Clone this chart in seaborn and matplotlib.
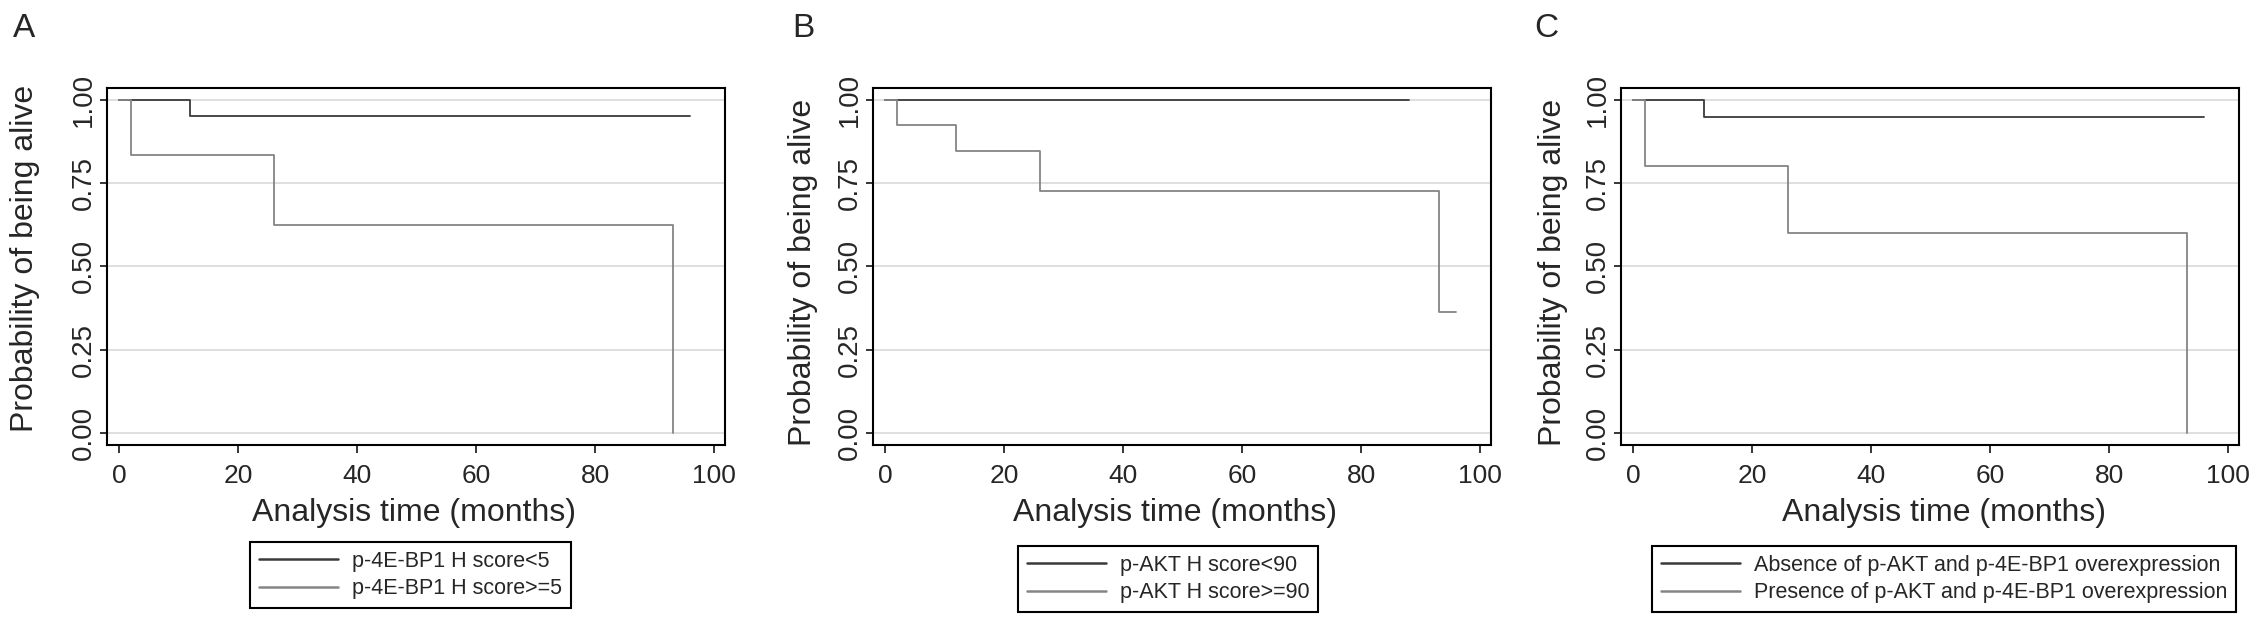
import pandas as pd
import matplotlib.pyplot as plt
import seaborn as sns

# Kaplan-Meier step values (time in months)
a_low_time = [0, 12, 96]
a_low_surv = [1.0, 0.95, 0.95]
a_high_time = [0, 2, 26, 93]
a_high_surv = [1.0, 0.833, 0.625, 0.0]
a_labels = ['p-4E-BP1 H score<5', 'p-4E-BP1 H score>=5']

b_low_time = [0, 88]
b_low_surv = [1.0, 1.0]
b_high_time = [0, 2, 12, 26, 93, 96]
b_high_surv = [1.0, 0.924, 0.847, 0.726, 0.363, 0.363]
b_labels = ['p-AKT H score<90', 'p-AKT H score>=90']

c_abs_time = [0, 12, 96]
c_abs_surv = [1.0, 0.947, 0.947]
c_pres_time = [0, 2, 26, 93]
c_pres_surv = [1.0, 0.8, 0.6, 0.0]
c_labels = ['Absence of p-AKT and p-4E-BP1 overexpression',
            'Presence of p-AKT and p-4E-BP1 overexpression']

panel_letters = ['A', 'B', 'C']
x_ticks = [0, 20, 40, 60, 80, 100]
y_ticks = [0, 0.25, 0.5, 0.75, 1.0]

DARK = '#3a3a3a'
GRAY = '#858585'
W, H = 2268, 630


def km_frame(t1, s1, t2, s2, labels):
    d1 = pd.DataFrame({'time': t1, 'surv': s1, 'group': labels[0]})
    d2 = pd.DataFrame({'time': t2, 'surv': s2, 'group': labels[1]})
    return pd.concat([d1, d2], ignore_index=True)


panels = [
    (km_frame(a_low_time, a_low_surv, a_high_time, a_high_surv, a_labels), a_labels),
    (km_frame(b_low_time, b_low_surv, b_high_time, b_high_surv, b_labels), b_labels),
    (km_frame(c_abs_time, c_abs_surv, c_pres_time, c_pres_surv, c_labels), c_labels),
]

sns.set_theme(style='ticks')
plt.rcParams['font.family'] = ['Liberation Sans', 'DejaVu Sans']

fig = plt.figure(figsize=(W / 100, H / 100), dpi=100)

# layout in pixels of the reference
ax_left = [107, 873, 1621]
letter_x = [13, 792, 1534]
leg_pos = [(250, 542), (1018, 546), (1652, 546)]
ylab_pos = [(-0.108, 0.522), (-0.089, 0.483), (-0.086, 0.483)]
xlab_x = [0.496, 0.489, 0.522]
ax_w, ax_h = 618, 357
ax_bottom = 444.5

for i, (df, labels) in enumerate(panels):
    ax = fig.add_axes([ax_left[i] / W, 1 - ax_bottom / H, ax_w / W, ax_h / H])
    ax.grid(axis='y', color='#d6d6d6', linewidth=1.1)
    ax.set_axisbelow(True)
    sns.lineplot(data=df, x='time', y='surv', hue='group',
                 palette={labels[0]: DARK, labels[1]: GRAY},
                 drawstyle='steps-post', estimator=None, linewidth=1.3, ax=ax)

    ax.set_xlim(-2, 101.8)
    ax.set_ylim(-0.035, 1.036)
    ax.set_xticks(x_ticks)
    ax.set_xticklabels([str(v) for v in x_ticks], fontsize=19)
    ax.set_yticks(y_ticks)
    ax.set_yticklabels([f'{v:.2f}' for v in y_ticks], fontsize=20,
                       rotation=90, va='center')
    ax.tick_params(axis='x', direction='out', length=5.5, width=1.1,
                   color='black', pad=8.5)
    ax.tick_params(axis='y', direction='out', length=5, width=1.1,
                   color='black', pad=2)
    for sp in ax.spines.values():
        sp.set_color('black')
        sp.set_linewidth(1.5)

    ax.set_xlabel('Analysis time (months)', fontsize=23)
    ax.set_ylabel('Probability of being alive', fontsize=23)
    ax.xaxis.set_label_coords(xlab_x[i], -0.151)
    ax.yaxis.set_label_coords(*ylab_pos[i])

    handles, labs = ax.get_legend_handles_labels()
    if ax.get_legend() is not None:
        ax.get_legend().remove()
    lx, ly = leg_pos[i]
    leg = fig.legend(handles, labs, loc='upper left',
                     bbox_to_anchor=(lx / W, 1 - ly / H),
                     bbox_transform=fig.transFigure, frameon=True,
                     fancybox=False, shadow=False, edgecolor='black',
                     framealpha=1, fontsize=15.5, handlelength=3.7,
                     handletextpad=0.65, borderpad=0.4, labelspacing=0.3,
                     borderaxespad=0)
    leg.get_frame().set_linewidth(1.5)
    for h in leg.legend_handles:
        h.set_linewidth(1.8)

    fig.text(letter_x[i] / W, 1 - 37 / H, panel_letters[i], fontsize=24,
             ha='left', va='baseline')

fig.savefig('out.png', dpi=100)
